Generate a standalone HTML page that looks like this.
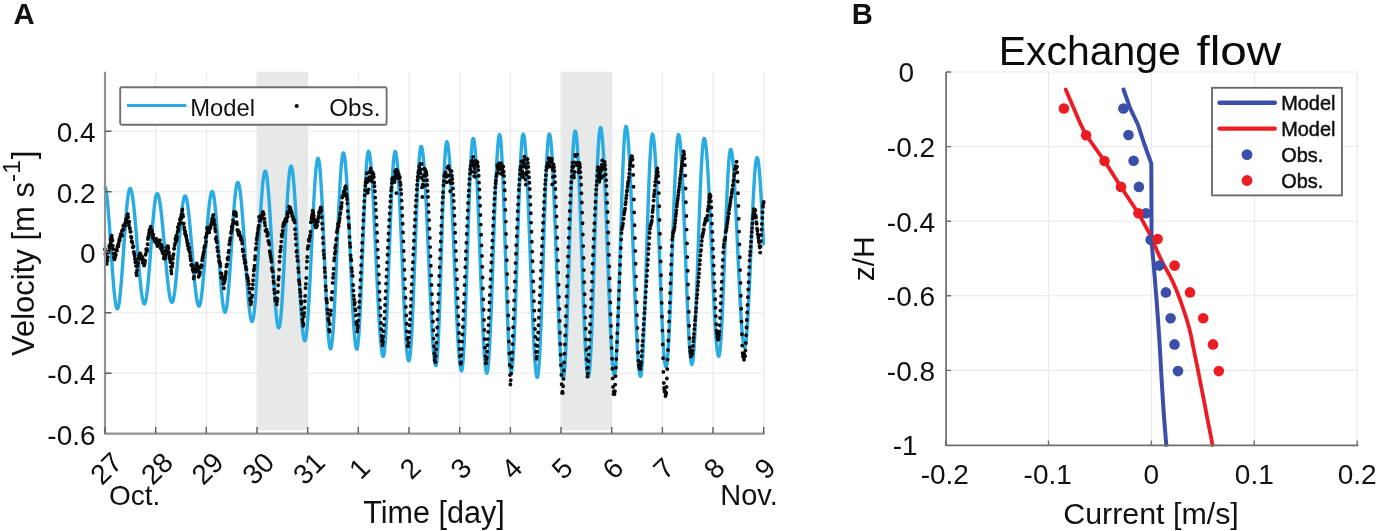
<!DOCTYPE html>
<html lang="en"><head><meta charset="utf-8"><title>Velocity time series and exchange flow</title>
<style>html,body{margin:0;padding:0;background:#fff}body{width:1377px;height:531px;overflow:hidden}svg{display:block;filter:blur(0.45px)}</style>
</head><body>
<svg width="1377" height="531" viewBox="0 0 1377 531" font-family='"Liberation Sans", sans-serif' fill="#111">
<rect width="1377" height="531" fill="#fff"/>
<g id="panelA">
<rect x="257.0" y="71.8" width="50.7" height="358.2" fill="#e7e8e8"/>
<rect x="561.0" y="71.8" width="50.7" height="358.2" fill="#e7e8e8"/>
<path d="M155.7 71.8V433.6M206.3 71.8V433.6M257.0 71.8V433.6M307.7 71.8V433.6M358.3 71.8V433.6M409.0 71.8V433.6M459.7 71.8V433.6M510.4 71.8V433.6M561.0 71.8V433.6M611.7 71.8V433.6M662.4 71.8V433.6M713.0 71.8V433.6M763.7 71.8V433.6M105.0 131.3H763.7M105.0 191.8H763.7M105.0 252.3H763.7M105.0 312.8H763.7M105.0 373.3H763.7" stroke="#e9e9eb" stroke-width="1.1" fill="none"/>
<path d="M105.0 186.5 L105.5 187.8 L106.0 190.1 L106.5 193.3 L107.0 197.2 L107.5 201.9 L108.0 207.3 L108.5 213.3 L109.0 219.8 L109.5 226.7 L110.0 234.0 L110.5 241.4 L111.0 249.0 L111.5 256.5 L112.0 263.8 L112.5 271.0 L113.0 277.7 L113.5 284.1 L114.0 289.8 L114.5 295.0 L115.0 299.4 L115.5 303.0 L116.0 305.8 L116.5 307.7 L117.0 308.7 L117.5 308.8 L118.0 308.0 L118.5 306.3 L119.0 303.7 L119.5 300.3 L120.0 296.1 L120.5 291.3 L121.0 285.7 L121.5 279.6 L122.0 273.1 L122.5 266.1 L123.0 259.0 L123.5 251.6 L124.0 244.2 L124.5 236.9 L125.0 229.8 L125.5 222.9 L126.0 216.4 L126.5 210.4 L127.0 205.0 L127.5 200.3 L128.0 196.2 L128.5 193.0 L129.0 190.6 L129.5 189.1 L130.0 188.4 L130.5 188.6 L131.0 189.5 L131.5 191.1 L132.0 193.4 L132.5 196.2 L133.0 199.7 L133.5 203.8 L134.0 208.3 L134.5 213.3 L135.0 218.8 L135.5 224.5 L136.0 230.5 L136.5 236.7 L137.0 243.0 L137.5 249.3 L138.0 255.6 L138.5 261.8 L139.0 267.8 L139.5 273.5 L140.0 279.0 L140.5 284.0 L141.0 288.5 L141.5 292.6 L142.0 296.1 L142.5 298.9 L143.0 301.2 L143.5 302.8 L144.0 303.7 L144.5 303.9 L145.0 303.3 L145.5 301.9 L146.0 299.7 L146.5 296.7 L147.0 293.1 L147.5 288.7 L148.0 283.8 L148.5 278.3 L149.0 272.4 L149.5 266.1 L150.0 259.5 L150.5 252.9 L151.0 246.1 L151.5 239.4 L152.0 232.8 L152.5 226.5 L153.0 220.5 L153.5 214.9 L154.0 209.8 L154.5 205.4 L155.0 201.5 L155.5 198.4 L156.0 196.1 L156.5 194.5 L157.0 193.8 L157.5 193.8 L158.0 194.5 L158.5 195.8 L159.0 197.6 L159.5 200.0 L160.0 203.0 L160.5 206.5 L161.0 210.4 L161.5 214.8 L162.0 219.6 L162.5 224.6 L163.0 229.9 L163.5 235.5 L164.0 241.1 L164.5 246.9 L165.0 252.7 L165.5 258.4 L166.0 264.0 L166.5 269.4 L167.0 274.6 L167.5 279.4 L168.0 284.0 L168.5 288.1 L169.0 291.7 L169.5 294.9 L170.0 297.6 L170.5 299.7 L171.0 301.2 L171.5 302.1 L172.0 302.4 L172.5 302.0 L173.0 300.9 L173.5 299.0 L174.0 296.4 L174.5 293.1 L175.0 289.2 L175.5 284.7 L176.0 279.7 L176.5 274.3 L177.0 268.5 L177.5 262.4 L178.0 256.2 L178.5 249.8 L179.0 243.4 L179.5 237.1 L180.0 231.0 L180.5 225.1 L181.0 219.6 L181.5 214.5 L182.0 209.9 L182.5 205.9 L183.0 202.5 L183.5 199.8 L184.0 197.7 L184.5 196.5 L185.0 195.9 L185.5 196.1 L186.0 197.0 L186.5 198.6 L187.0 200.9 L187.5 203.8 L188.0 207.3 L188.5 211.4 L189.0 216.0 L189.5 221.0 L190.0 226.4 L190.5 232.1 L191.0 238.1 L191.5 244.2 L192.0 250.4 L192.5 256.6 L193.0 262.8 L193.5 268.8 L194.0 274.6 L194.5 280.1 L195.0 285.2 L195.5 289.8 L196.0 294.0 L196.5 297.6 L197.0 300.7 L197.5 303.1 L198.0 304.8 L198.5 305.8 L199.0 306.2 L199.5 305.8 L200.0 304.6 L200.5 302.6 L201.0 299.8 L201.5 296.3 L202.0 292.2 L202.5 287.4 L203.0 282.1 L203.5 276.3 L204.0 270.1 L204.5 263.7 L205.0 257.0 L205.5 250.2 L206.0 243.3 L206.5 236.6 L207.0 230.0 L207.5 223.7 L208.0 217.8 L208.5 212.3 L209.0 207.3 L209.5 202.8 L210.0 199.1 L210.5 196.0 L211.0 193.7 L211.5 192.2 L212.0 191.5 L212.5 191.6 L213.0 192.6 L213.5 194.4 L214.0 197.2 L214.5 200.8 L215.0 205.1 L215.5 210.2 L216.0 215.8 L216.5 222.0 L217.0 228.7 L217.5 235.7 L218.0 242.9 L218.5 250.3 L219.0 257.7 L219.5 265.0 L220.0 272.1 L220.5 279.0 L221.0 285.4 L221.5 291.3 L222.0 296.6 L222.5 301.2 L223.0 305.1 L223.5 308.2 L224.0 310.4 L224.5 311.7 L225.0 312.2 L225.5 311.7 L226.0 310.3 L226.5 307.9 L227.0 304.5 L227.5 300.4 L228.0 295.4 L228.5 289.7 L229.0 283.4 L229.5 276.5 L230.0 269.2 L230.5 261.5 L231.0 253.7 L231.5 245.7 L232.0 237.8 L232.5 230.0 L233.0 222.5 L233.5 215.3 L234.0 208.6 L234.5 202.5 L235.0 197.1 L235.5 192.5 L236.0 188.6 L236.5 185.7 L237.0 183.6 L237.5 182.6 L238.0 182.5 L238.5 183.2 L239.0 184.8 L239.5 187.2 L240.0 190.4 L240.5 194.3 L241.0 198.9 L241.5 204.1 L242.0 210.0 L242.5 216.3 L243.0 223.1 L243.5 230.2 L244.0 237.5 L244.5 245.1 L245.0 252.7 L245.5 260.3 L246.0 267.9 L246.5 275.2 L247.0 282.2 L247.5 288.9 L248.0 295.1 L248.5 300.9 L249.0 306.0 L249.5 310.5 L250.0 314.2 L250.5 317.2 L251.0 319.5 L251.5 320.9 L252.0 321.5 L252.5 321.2 L253.0 319.8 L253.5 317.3 L254.0 313.8 L254.5 309.4 L255.0 304.0 L255.5 297.9 L256.0 290.9 L256.5 283.4 L257.0 275.3 L257.5 266.8 L258.0 258.0 L258.5 249.0 L259.0 240.0 L259.5 231.1 L260.0 222.4 L260.5 214.0 L261.0 206.1 L261.5 198.8 L262.0 192.2 L262.5 186.3 L263.0 181.3 L263.5 177.3 L264.0 174.2 L264.5 172.2 L265.0 171.2 L265.5 171.3 L266.0 172.4 L266.5 174.6 L267.0 177.8 L267.5 181.9 L268.0 186.9 L268.5 192.8 L269.0 199.4 L269.5 206.7 L270.0 214.6 L270.5 222.9 L271.0 231.6 L271.5 240.5 L272.0 249.5 L272.5 258.6 L273.0 267.5 L273.5 276.2 L274.0 284.5 L274.5 292.4 L275.0 299.7 L275.5 306.3 L276.0 312.2 L276.5 317.2 L277.0 321.3 L277.5 324.5 L278.0 326.7 L278.5 327.8 L279.0 327.9 L279.5 326.7 L280.0 324.2 L280.5 320.4 L281.0 315.4 L281.5 309.2 L282.0 302.0 L282.5 294.0 L283.0 285.1 L283.5 275.6 L284.0 265.6 L284.5 255.4 L285.0 245.0 L285.5 234.6 L286.0 224.4 L286.5 214.6 L287.0 205.4 L287.5 196.8 L288.0 189.1 L288.5 182.3 L289.0 176.6 L289.5 172.1 L290.0 168.8 L290.5 166.8 L291.0 166.1 L291.5 166.7 L292.0 168.4 L292.5 171.1 L293.0 175.0 L293.5 179.9 L294.0 185.7 L294.5 192.4 L295.0 199.9 L295.5 208.1 L296.0 216.9 L296.5 226.1 L297.0 235.7 L297.5 245.6 L298.0 255.5 L298.5 265.4 L299.0 275.2 L299.5 284.6 L300.0 293.7 L300.5 302.3 L301.0 310.2 L301.5 317.4 L302.0 323.7 L302.5 329.2 L303.0 333.7 L303.5 337.1 L304.0 339.5 L304.5 340.7 L305.0 340.8 L305.5 339.7 L306.0 337.3 L306.5 333.6 L307.0 328.8 L307.5 322.9 L308.0 316.0 L308.5 308.2 L309.0 299.5 L309.5 290.2 L310.0 280.2 L310.5 269.9 L311.0 259.2 L311.5 248.5 L312.0 237.7 L312.5 227.1 L313.0 216.8 L313.5 207.0 L314.0 197.8 L314.5 189.3 L315.0 181.6 L315.5 174.9 L316.0 169.2 L316.5 164.6 L317.0 161.3 L317.5 159.1 L318.0 158.2 L318.5 158.7 L319.0 160.7 L319.5 164.1 L320.0 169.0 L320.5 175.3 L321.0 182.8 L321.5 191.4 L322.0 201.1 L322.5 211.6 L323.0 222.7 L323.5 234.4 L324.0 246.3 L324.5 258.4 L325.0 270.4 L325.5 282.1 L326.0 293.4 L326.5 304.0 L327.0 313.8 L327.5 322.7 L328.0 330.4 L328.5 336.9 L329.0 342.1 L329.5 345.9 L330.0 348.1 L330.5 348.9 L331.0 348.2 L331.5 346.0 L332.0 342.4 L332.5 337.5 L333.0 331.3 L333.5 323.9 L334.0 315.4 L334.5 306.0 L335.0 295.7 L335.5 284.8 L336.0 273.4 L336.5 261.6 L337.0 249.7 L337.5 237.8 L338.0 226.1 L338.5 214.8 L339.0 204.0 L339.5 193.9 L340.0 184.6 L340.5 176.3 L341.0 169.2 L341.5 163.2 L342.0 158.5 L342.5 155.2 L343.0 153.4 L343.5 152.9 L344.0 153.9 L344.5 156.1 L345.0 159.7 L345.5 164.6 L346.0 170.6 L346.5 177.7 L347.0 185.8 L347.5 194.9 L348.0 204.7 L348.5 215.1 L349.0 226.0 L349.5 237.3 L350.0 248.7 L350.5 260.2 L351.0 271.6 L351.5 282.7 L352.0 293.3 L352.5 303.4 L353.0 312.8 L353.5 321.3 L354.0 328.8 L354.5 335.3 L355.0 340.6 L355.5 344.7 L356.0 347.5 L356.5 349.0 L357.0 349.1 L357.5 347.5 L358.0 344.1 L358.5 339.1 L359.0 332.4 L359.5 324.3 L360.0 314.9 L360.5 304.3 L361.0 292.7 L361.5 280.4 L362.0 267.5 L362.5 254.3 L363.0 241.0 L363.5 227.9 L364.0 215.2 L364.5 203.2 L365.0 192.0 L365.5 181.8 L366.0 172.9 L366.5 165.3 L367.0 159.3 L367.5 154.9 L368.0 152.3 L368.5 151.4 L369.0 152.0 L369.5 153.7 L370.0 156.6 L370.5 160.6 L371.0 165.7 L371.5 171.8 L372.0 178.8 L372.5 186.6 L373.0 195.3 L373.5 204.6 L374.0 214.4 L374.5 224.7 L375.0 235.4 L375.5 246.2 L376.0 257.2 L376.5 268.1 L377.0 278.8 L377.5 289.3 L378.0 299.4 L378.5 308.9 L379.0 317.8 L379.5 326.0 L380.0 333.4 L380.5 339.8 L381.0 345.3 L381.5 349.7 L382.0 353.0 L382.5 355.3 L383.0 356.3 L383.5 356.1 L384.0 354.2 L384.5 350.5 L385.0 345.2 L385.5 338.4 L386.0 330.1 L386.5 320.5 L387.0 309.7 L387.5 298.0 L388.0 285.6 L388.5 272.6 L389.0 259.3 L389.5 245.9 L390.0 232.6 L390.5 219.7 L391.0 207.4 L391.5 195.8 L392.0 185.3 L392.5 176.0 L393.0 167.9 L393.5 161.4 L394.0 156.4 L394.5 153.1 L395.0 151.5 L395.5 151.7 L396.0 153.2 L396.5 156.1 L397.0 160.3 L397.5 165.8 L398.0 172.6 L398.5 180.4 L399.0 189.2 L399.5 199.0 L400.0 209.5 L400.5 220.6 L401.0 232.2 L401.5 244.1 L402.0 256.1 L402.5 268.2 L403.0 280.1 L403.5 291.7 L404.0 302.8 L404.5 313.3 L405.0 323.1 L405.5 331.9 L406.0 339.7 L406.5 346.5 L407.0 352.0 L407.5 356.2 L408.0 359.1 L408.5 360.6 L409.0 360.8 L409.5 359.2 L410.0 356.0 L410.5 351.1 L411.0 344.7 L411.5 336.8 L412.0 327.5 L412.5 317.1 L413.0 305.7 L413.5 293.4 L414.0 280.5 L414.5 267.2 L415.0 253.7 L415.5 240.1 L416.0 226.8 L416.5 213.9 L417.0 201.6 L417.5 190.2 L418.0 179.8 L418.5 170.5 L419.0 162.6 L419.5 156.2 L420.0 151.3 L420.5 148.1 L421.0 146.5 L421.5 146.6 L422.0 148.0 L422.5 150.6 L423.0 154.4 L423.5 159.4 L424.0 165.5 L424.5 172.6 L425.0 180.6 L425.5 189.5 L426.0 199.2 L426.5 209.5 L427.0 220.4 L427.5 231.7 L428.0 243.2 L428.5 254.9 L429.0 266.6 L429.5 278.2 L430.0 289.5 L430.5 300.4 L431.0 310.9 L431.5 320.7 L432.0 329.8 L432.5 338.0 L433.0 345.3 L433.5 351.6 L434.0 356.8 L434.5 360.8 L435.0 363.7 L435.5 365.3 L436.0 365.7 L436.5 364.0 L437.0 360.1 L437.5 354.0 L438.0 345.8 L438.5 335.7 L439.0 323.9 L439.5 310.6 L440.0 296.2 L440.5 280.8 L441.0 264.9 L441.5 248.8 L442.0 232.8 L442.5 217.2 L443.0 202.3 L443.5 188.6 L444.0 176.1 L444.5 165.3 L445.0 156.3 L445.5 149.4 L446.0 144.6 L446.5 142.0 L447.0 141.7 L447.5 142.9 L448.0 145.4 L448.5 149.1 L449.0 154.0 L449.5 160.2 L450.0 167.4 L450.5 175.6 L451.0 184.8 L451.5 194.8 L452.0 205.4 L452.5 216.7 L453.0 228.4 L453.5 240.4 L454.0 252.6 L454.5 264.9 L455.0 277.0 L455.5 288.9 L456.0 300.5 L456.5 311.5 L457.0 321.9 L457.5 331.6 L458.0 340.4 L458.5 348.2 L459.0 355.0 L459.5 360.7 L460.0 365.2 L460.5 368.4 L461.0 370.3 L461.5 371.0 L462.0 370.0 L462.5 366.8 L463.0 361.7 L463.5 354.6 L464.0 345.8 L464.5 335.2 L465.0 323.3 L465.5 310.1 L466.0 295.9 L466.5 281.0 L467.0 265.6 L467.5 250.0 L468.0 234.4 L468.5 219.3 L469.0 204.8 L469.5 191.2 L470.0 178.7 L470.5 167.6 L471.0 158.0 L471.5 150.2 L472.0 144.3 L472.5 140.3 L473.0 138.5 L473.5 138.6 L474.0 140.3 L474.5 143.6 L475.0 148.3 L475.5 154.5 L476.0 162.0 L476.5 170.8 L477.0 180.8 L477.5 191.7 L478.0 203.5 L478.5 215.9 L479.0 228.9 L479.5 242.3 L480.0 255.8 L480.5 269.4 L481.0 282.8 L481.5 295.8 L482.0 308.2 L482.5 320.0 L483.0 330.9 L483.5 340.9 L484.0 349.7 L484.5 357.2 L485.0 363.4 L485.5 368.1 L486.0 371.4 L486.5 373.1 L487.0 373.3 L487.5 371.6 L488.0 368.3 L488.5 363.2 L489.0 356.4 L489.5 348.1 L490.0 338.4 L490.5 327.5 L491.0 315.4 L491.5 302.4 L492.0 288.7 L492.5 274.4 L493.0 259.9 L493.5 245.2 L494.0 230.7 L494.5 216.5 L495.0 202.9 L495.5 190.1 L496.0 178.3 L496.5 167.5 L497.0 158.1 L497.5 150.1 L498.0 143.7 L498.5 138.9 L499.0 135.9 L499.5 134.6 L500.0 135.3 L500.5 138.1 L501.0 143.0 L501.5 150.0 L502.0 158.8 L502.5 169.4 L503.0 181.5 L503.5 194.9 L504.0 209.4 L504.5 224.7 L505.0 240.6 L505.5 256.6 L506.0 272.6 L506.5 288.3 L507.0 303.3 L507.5 317.4 L508.0 330.3 L508.5 341.8 L509.0 351.7 L509.5 359.8 L510.0 366.0 L510.5 370.1 L511.0 372.0 L511.5 371.8 L512.0 369.6 L512.5 365.4 L513.0 359.2 L513.5 351.2 L514.0 341.6 L514.5 330.4 L515.0 317.9 L515.5 304.3 L516.0 289.9 L516.5 274.8 L517.0 259.3 L517.5 243.7 L518.0 228.3 L518.5 213.3 L519.0 199.0 L519.5 185.6 L520.0 173.3 L520.5 162.4 L521.0 153.1 L521.5 145.5 L522.0 139.7 L522.5 135.9 L523.0 134.1 L523.5 134.2 L524.0 135.8 L524.5 139.0 L525.0 143.6 L525.5 149.5 L526.0 156.8 L526.5 165.4 L527.0 175.0 L527.5 185.7 L528.0 197.2 L528.5 209.4 L529.0 222.2 L529.5 235.4 L530.0 248.9 L530.5 262.5 L531.0 276.0 L531.5 289.2 L532.0 302.0 L532.5 314.2 L533.0 325.7 L533.5 336.4 L534.0 346.0 L534.5 354.6 L535.0 361.9 L535.5 367.8 L536.0 372.4 L536.5 375.6 L537.0 377.2 L537.5 377.3 L538.0 375.5 L538.5 371.5 L539.0 365.6 L539.5 357.9 L540.0 348.3 L540.5 337.2 L541.0 324.7 L541.5 311.0 L542.0 296.4 L542.5 281.0 L543.0 265.3 L543.5 249.3 L544.0 233.5 L544.5 218.1 L545.0 203.3 L545.5 189.4 L546.0 176.6 L546.5 165.2 L547.0 155.3 L547.5 147.2 L548.0 140.9 L548.5 136.6 L549.0 134.3 L549.5 134.0 L550.0 135.4 L550.5 138.4 L551.0 142.8 L551.5 148.7 L552.0 155.9 L552.5 164.5 L553.0 174.2 L553.5 184.9 L554.0 196.6 L554.5 209.0 L555.0 222.0 L555.5 235.4 L556.0 249.2 L556.5 262.9 L557.0 276.7 L557.5 290.1 L558.0 303.1 L558.5 315.5 L559.0 327.2 L559.5 337.9 L560.0 347.6 L560.5 356.2 L561.0 363.4 L561.5 369.3 L562.0 373.7 L562.5 376.7 L563.0 378.1 L563.5 377.8 L564.0 375.5 L564.5 371.1 L565.0 364.7 L565.5 356.5 L566.0 346.4 L566.5 334.9 L567.0 321.9 L567.5 307.8 L568.0 292.8 L568.5 277.1 L569.0 261.0 L569.5 244.8 L570.0 228.8 L570.5 213.3 L571.0 198.4 L571.5 184.5 L572.0 171.8 L572.5 160.5 L573.0 150.8 L573.5 142.9 L574.0 137.0 L574.5 133.0 L575.0 131.1 L575.5 131.2 L576.0 133.2 L576.5 136.8 L577.0 142.2 L577.5 149.1 L578.0 157.6 L578.5 167.5 L579.0 178.6 L579.5 190.7 L580.0 203.8 L580.5 217.6 L581.0 231.9 L581.5 246.6 L582.0 261.3 L582.5 276.0 L583.0 290.3 L583.5 304.1 L584.0 317.2 L584.5 329.3 L585.0 340.4 L585.5 350.3 L586.0 358.8 L586.5 365.7 L587.0 371.1 L587.5 374.7 L588.0 376.7 L588.5 376.8 L589.0 375.0 L589.5 371.1 L590.0 365.2 L590.5 357.5 L591.0 348.0 L591.5 337.0 L592.0 324.5 L592.5 310.9 L593.0 296.2 L593.5 280.9 L594.0 265.0 L594.5 249.0 L595.0 233.0 L595.5 217.3 L596.0 202.2 L596.5 188.0 L597.0 174.7 L597.5 162.8 L598.0 152.4 L598.5 143.6 L599.0 136.6 L599.5 131.5 L600.0 128.4 L600.5 127.4 L601.0 128.2 L601.5 130.6 L602.0 134.5 L602.5 139.8 L603.0 146.7 L603.5 154.8 L604.0 164.2 L604.5 174.7 L605.0 186.1 L605.5 198.4 L606.0 211.4 L606.5 224.9 L607.0 238.7 L607.5 252.7 L608.0 266.7 L608.5 280.4 L609.0 293.8 L609.5 306.7 L610.0 318.8 L610.5 330.1 L611.0 340.4 L611.5 349.5 L612.0 357.4 L612.5 364.0 L613.0 369.0 L613.5 372.6 L614.0 374.7 L614.5 375.2 L615.0 373.6 L615.5 369.7 L616.0 363.7 L616.5 355.6 L617.0 345.6 L617.5 333.9 L618.0 320.6 L618.5 306.0 L619.0 290.5 L619.5 274.2 L620.0 257.5 L620.5 240.6 L621.0 224.0 L621.5 207.8 L622.0 192.5 L622.5 178.1 L623.0 165.2 L623.5 153.8 L624.0 144.1 L624.5 136.4 L625.0 130.8 L625.5 127.4 L626.0 126.3 L626.5 127.0 L627.0 129.2 L627.5 132.8 L628.0 137.9 L628.5 144.2 L629.0 151.8 L629.5 160.6 L630.0 170.4 L630.5 181.2 L631.0 192.8 L631.5 205.1 L632.0 217.9 L632.5 231.1 L633.0 244.6 L633.5 258.1 L634.0 271.6 L634.5 284.8 L635.0 297.6 L635.5 309.9 L636.0 321.5 L636.5 332.3 L637.0 342.1 L637.5 350.9 L638.0 358.5 L638.5 364.8 L639.0 369.9 L639.5 373.5 L640.0 375.7 L640.5 376.4 L641.0 375.4 L641.5 372.3 L642.0 367.2 L642.5 360.2 L643.0 351.4 L643.5 340.9 L644.0 329.0 L644.5 315.8 L645.0 301.6 L645.5 286.6 L646.0 271.1 L646.5 255.2 L647.0 239.4 L647.5 223.9 L648.0 208.9 L648.5 194.7 L649.0 181.5 L649.5 169.6 L650.0 159.1 L650.5 150.3 L651.0 143.3 L651.5 138.2 L652.0 135.1 L652.5 134.1 L653.0 134.9 L653.5 137.2 L654.0 141.1 L654.5 146.5 L655.0 153.3 L655.5 161.4 L656.0 170.7 L656.5 181.1 L657.0 192.4 L657.5 204.5 L658.0 217.2 L658.5 230.4 L659.0 243.9 L659.5 257.4 L660.0 270.9 L660.5 284.1 L661.0 296.8 L661.5 308.9 L662.0 320.2 L662.5 330.6 L663.0 339.9 L663.5 348.0 L664.0 354.8 L664.5 360.2 L665.0 364.1 L665.5 366.4 L666.0 367.2 L666.5 366.3 L667.0 363.6 L667.5 359.2 L668.0 353.0 L668.5 345.3 L669.0 336.2 L669.5 325.7 L670.0 314.0 L670.5 301.4 L671.0 287.9 L671.5 273.9 L672.0 259.6 L672.5 245.1 L673.0 230.7 L673.5 216.6 L674.0 203.1 L674.5 190.3 L675.0 178.4 L675.5 167.6 L676.0 158.2 L676.5 150.2 L677.0 143.7 L677.5 138.9 L678.0 135.9 L678.5 134.6 L679.0 135.1 L679.5 137.2 L680.0 140.8 L680.5 146.0 L681.0 152.6 L681.5 160.5 L682.0 169.7 L682.5 180.0 L683.0 191.3 L683.5 203.4 L684.0 216.1 L684.5 229.3 L685.0 242.8 L685.5 256.3 L686.0 269.8 L686.5 283.0 L687.0 295.7 L687.5 307.8 L688.0 319.1 L688.5 329.4 L689.0 338.6 L689.5 346.5 L690.0 353.1 L690.5 358.3 L691.0 361.9 L691.5 364.0 L692.0 364.5 L692.5 363.2 L693.0 360.1 L693.5 355.2 L694.0 348.6 L694.5 340.5 L695.0 330.9 L695.5 320.0 L696.0 308.0 L696.5 295.0 L697.0 281.4 L697.5 267.3 L698.0 252.9 L698.5 238.5 L699.0 224.3 L699.5 210.5 L700.0 197.4 L700.5 185.2 L701.0 174.1 L701.5 164.2 L702.0 155.8 L702.5 148.9 L703.0 143.7 L703.5 140.2 L704.0 138.5 L704.5 138.6 L705.0 140.0 L705.5 142.7 L706.0 146.6 L706.5 151.7 L707.0 157.8 L707.5 165.1 L708.0 173.3 L708.5 182.4 L709.0 192.2 L709.5 202.7 L710.0 213.7 L710.5 225.1 L711.0 236.8 L711.5 248.6 L712.0 260.4 L712.5 272.0 L713.0 283.3 L713.5 294.2 L714.0 304.6 L714.5 314.3 L715.0 323.2 L715.5 331.2 L716.0 338.3 L716.5 344.3 L717.0 349.1 L717.5 352.7 L718.0 355.1 L718.5 356.3 L719.0 356.1 L719.5 354.1 L720.0 350.5 L720.5 345.1 L721.0 338.2 L721.5 329.8 L722.0 320.1 L722.5 309.3 L723.0 297.5 L723.5 284.9 L724.0 271.8 L724.5 258.3 L725.0 244.8 L725.5 231.4 L726.0 218.4 L726.5 205.9 L727.0 194.3 L727.5 183.6 L728.0 174.2 L728.5 166.1 L729.0 159.5 L729.5 154.5 L730.0 151.1 L730.5 149.5 L731.0 149.6 L731.5 151.0 L732.0 153.6 L732.5 157.5 L733.0 162.5 L733.5 168.6 L734.0 175.7 L734.5 183.7 L735.0 192.6 L735.5 202.2 L736.0 212.4 L736.5 223.0 L737.0 234.0 L737.5 245.1 L738.0 256.3 L738.5 267.4 L739.0 278.2 L739.5 288.7 L740.0 298.6 L740.5 307.9 L741.0 316.5 L741.5 324.2 L742.0 330.9 L742.5 336.6 L743.0 341.1 L743.5 344.5 L744.0 346.6 L744.5 347.5 L745.0 347.0 L745.5 345.1 L746.0 341.7 L746.5 336.9 L747.0 330.7 L747.5 323.4 L748.0 314.9 L748.5 305.4 L749.0 295.1 L749.5 284.1 L750.0 272.6 L750.5 260.8 L751.0 248.9 L751.5 237.0 L752.0 225.4 L752.5 214.2 L753.0 203.6 L753.5 193.8 L754.0 184.9 L754.5 177.1 L755.0 170.4 L755.5 165.1 L756.0 161.1 L756.5 158.6 L757.0 157.5 L757.5 157.9 L758.0 159.6 L758.5 162.6 L759.0 166.8 L759.5 172.2 L760.0 178.7 L760.5 186.2 L761.0 194.6 L761.5 203.8 L762.0 213.5 L762.5 223.8 L763.0 234.4 L763.5 245.2" stroke="#2aabe2" stroke-width="3.4" fill="none" stroke-linejoin="round"/>
<path d="M105.0 249.3h0M105.4 254.1h0M105.7 254.0h0M106.1 258.4h0M106.4 262.0h0M106.8 263.9h0M107.1 258.6h0M107.5 260.4h0M107.8 257.1h0M108.2 252.3h0M108.5 252.6h0M108.9 250.9h0M109.2 246.1h0M109.6 247.8h0M109.9 246.3h0M110.3 244.1h0M110.6 239.4h0M111.0 242.0h0M111.3 236.8h0M111.7 235.8h0M112.0 238.7h0M112.4 240.4h0M112.7 245.7h0M113.1 249.1h0M113.4 253.8h0M113.8 257.6h0M114.1 258.2h0M114.5 259.4h0M114.9 257.7h0M115.2 257.1h0M115.6 254.6h0M115.9 254.9h0M116.3 250.9h0M116.6 249.6h0M117.0 250.4h0M117.3 247.1h0M117.7 246.3h0M118.0 244.9h0M118.4 246.3h0M118.7 243.4h0M119.1 241.0h0M119.4 239.2h0M119.8 240.2h0M120.1 236.8h0M120.5 236.8h0M120.8 234.3h0M121.2 234.4h0M121.5 235.1h0M121.9 231.0h0M122.2 235.5h0M122.6 230.1h0M122.9 229.4h0M123.3 225.7h0M123.6 229.6h0M124.0 225.0h0M124.4 225.3h0M124.7 225.6h0M125.1 225.8h0M125.4 222.6h0M125.8 221.5h0M126.1 219.0h0M126.5 219.7h0M126.8 218.6h0M127.2 216.0h0M127.5 214.4h0M127.9 214.2h0M128.2 217.3h0M128.6 223.1h0M128.9 225.3h0M129.3 221.8h0M129.6 228.3h0M130.0 228.2h0M130.3 231.8h0M130.7 231.8h0M131.0 236.7h0M131.4 237.7h0M131.7 241.5h0M132.1 241.8h0M132.4 242.9h0M132.8 247.3h0M133.1 247.2h0M133.5 246.5h0M133.9 251.9h0M134.2 253.8h0M134.6 255.5h0M134.9 258.8h0M135.3 262.3h0M135.6 261.2h0M136.0 266.1h0M136.3 273.0h0M136.7 275.2h0M137.0 270.2h0M137.4 266.2h0M137.7 265.4h0M138.1 262.6h0M138.4 258.6h0M138.8 257.9h0M139.1 256.1h0M139.5 254.1h0M139.8 255.4h0M140.2 253.5h0M140.5 254.0h0M140.9 255.9h0M141.2 259.0h0M141.6 256.4h0M141.9 257.2h0M142.3 257.2h0M142.7 262.8h0M143.0 261.7h0M143.4 259.7h0M143.7 263.1h0M144.1 265.5h0M144.4 263.6h0M144.8 263.6h0M145.1 260.9h0M145.5 254.8h0M145.8 254.0h0M146.2 249.3h0M146.5 251.0h0M146.9 248.9h0M147.2 250.8h0M147.6 244.2h0M147.9 239.0h0M148.3 237.3h0M148.6 236.1h0M149.0 233.5h0M149.3 230.4h0M149.7 231.3h0M150.0 229.1h0M150.4 228.2h0M150.7 226.7h0M151.1 231.6h0M151.4 230.8h0M151.8 230.2h0M152.2 231.7h0M152.5 235.2h0M152.9 237.8h0M153.2 234.6h0M153.6 237.7h0M153.9 238.7h0M154.3 239.5h0M154.6 240.7h0M155.0 238.9h0M155.3 242.1h0M155.7 241.7h0M156.0 239.6h0M156.4 239.0h0M156.7 240.3h0M157.1 244.9h0M157.4 246.1h0M157.8 243.2h0M158.1 244.7h0M158.5 241.7h0M158.8 243.0h0M159.2 243.4h0M159.5 244.2h0M159.9 240.3h0M160.2 244.2h0M160.6 248.3h0M160.9 244.9h0M161.3 244.7h0M161.7 249.3h0M162.0 250.7h0M162.4 247.3h0M162.7 253.3h0M163.1 253.0h0M163.4 251.6h0M163.8 258.4h0M164.1 256.8h0M164.5 256.9h0M164.8 258.7h0M165.2 257.4h0M165.5 255.3h0M165.9 255.2h0M166.2 250.7h0M166.6 248.0h0M166.9 251.5h0M167.3 247.8h0M167.6 246.3h0M168.0 246.2h0M168.3 248.3h0M168.7 251.9h0M169.0 253.2h0M169.4 258.3h0M169.7 256.4h0M170.1 260.1h0M170.4 262.3h0M170.8 266.9h0M171.2 270.7h0M171.5 273.6h0M171.9 266.9h0M172.2 266.1h0M172.6 263.2h0M172.9 258.8h0M173.3 255.2h0M173.6 254.3h0M174.0 248.7h0M174.3 248.6h0M174.7 245.2h0M175.0 243.8h0M175.4 239.4h0M175.7 238.0h0M176.1 241.6h0M176.4 235.5h0M176.8 239.8h0M177.1 237.3h0M177.5 232.0h0M177.8 227.2h0M178.2 230.5h0M178.5 229.1h0M178.9 224.0h0M179.2 224.9h0M179.6 223.7h0M179.9 219.5h0M180.3 222.1h0M180.7 217.6h0M181.0 218.2h0M181.4 214.7h0M181.7 217.9h0M182.1 211.1h0M182.4 209.4h0M182.8 214.8h0M183.1 216.4h0M183.5 223.8h0M183.8 223.5h0M184.2 227.5h0M184.5 230.1h0M184.9 233.4h0M185.2 231.6h0M185.6 234.4h0M185.9 236.0h0M186.3 235.7h0M186.6 238.7h0M187.0 240.7h0M187.3 242.9h0M187.7 245.4h0M188.0 243.8h0M188.4 248.8h0M188.7 249.7h0M189.1 247.7h0M189.4 248.0h0M189.8 252.3h0M190.2 255.8h0M190.5 258.8h0M190.9 260.2h0M191.2 265.1h0M191.6 264.8h0M191.9 265.9h0M192.3 265.3h0M192.6 269.8h0M193.0 268.8h0M193.3 271.6h0M193.7 278.6h0M194.0 276.7h0M194.4 268.7h0M194.7 270.9h0M195.1 268.9h0M195.4 271.4h0M195.8 271.9h0M196.1 265.5h0M196.5 264.7h0M196.8 263.4h0M197.2 265.4h0M197.5 268.5h0M197.9 270.8h0M198.2 270.8h0M198.6 276.7h0M198.9 276.3h0M199.3 274.8h0M199.7 274.4h0M200.0 272.2h0M200.4 266.5h0M200.7 267.6h0M201.1 267.6h0M201.4 265.3h0M201.8 265.9h0M202.1 260.3h0M202.5 257.9h0M202.8 257.0h0M203.2 255.0h0M203.5 253.1h0M203.9 251.5h0M204.2 248.0h0M204.6 246.7h0M204.9 245.7h0M205.3 245.7h0M205.6 237.7h0M206.0 242.0h0M206.3 236.3h0M206.7 233.5h0M207.0 228.2h0M207.4 227.6h0M207.7 230.6h0M208.1 230.5h0M208.4 232.2h0M208.8 228.4h0M209.2 232.4h0M209.5 229.7h0M209.9 228.3h0M210.2 227.3h0M210.6 227.2h0M210.9 225.2h0M211.3 223.9h0M211.6 222.2h0M212.0 219.6h0M212.3 218.1h0M212.7 218.4h0M213.0 215.5h0M213.4 214.9h0M213.7 219.3h0M214.1 221.0h0M214.4 224.2h0M214.8 225.1h0M215.1 228.7h0M215.5 231.5h0M215.8 238.9h0M216.2 237.3h0M216.5 241.3h0M216.9 242.3h0M217.2 247.4h0M217.6 251.1h0M218.0 251.3h0M218.3 256.0h0M218.7 257.0h0M219.0 261.1h0M219.4 260.9h0M219.7 262.9h0M220.1 263.4h0M220.4 266.1h0M220.8 273.2h0M221.1 277.5h0M221.5 273.4h0M221.8 277.0h0M222.2 278.4h0M222.5 276.9h0M222.9 279.4h0M223.2 283.5h0M223.6 283.8h0M223.9 288.3h0M224.3 281.4h0M224.6 282.1h0M225.0 279.6h0M225.3 277.3h0M225.7 274.6h0M226.0 271.9h0M226.4 266.5h0M226.7 264.7h0M227.1 264.4h0M227.5 258.4h0M227.8 259.6h0M228.2 257.3h0M228.5 252.4h0M228.9 250.6h0M229.2 244.2h0M229.6 244.0h0M229.9 240.8h0M230.3 238.2h0M230.6 238.1h0M231.0 233.1h0M231.3 231.4h0M231.7 226.7h0M232.0 229.3h0M232.4 227.8h0M232.7 224.2h0M233.1 220.1h0M233.4 223.0h0M233.8 214.3h0M234.1 211.9h0M234.5 212.4h0M234.8 214.9h0M235.2 214.4h0M235.5 212.2h0M235.9 213.3h0M236.2 216.0h0M236.6 222.1h0M237.0 224.3h0M237.3 230.0h0M237.7 231.1h0M238.0 230.1h0M238.4 233.8h0M238.7 234.7h0M239.1 235.4h0M239.4 232.5h0M239.8 235.5h0M240.1 235.4h0M240.5 236.5h0M240.8 239.3h0M241.2 238.2h0M241.5 239.6h0M241.9 240.7h0M242.2 243.6h0M242.6 249.4h0M242.9 251.4h0M243.3 250.8h0M243.6 255.9h0M244.0 255.8h0M244.3 259.2h0M244.7 263.0h0M245.0 260.7h0M245.4 262.4h0M245.7 266.8h0M246.1 268.9h0M246.5 269.4h0M246.8 275.0h0M247.2 276.0h0M247.5 278.4h0M247.9 278.0h0M248.2 281.0h0M248.6 284.2h0M248.9 283.9h0M249.3 288.4h0M249.6 292.6h0M250.0 298.8h0M250.3 300.8h0M250.7 304.4h0M251.0 301.1h0M251.4 302.1h0M251.7 297.2h0M252.1 295.4h0M252.4 288.8h0M252.8 284.5h0M253.1 280.3h0M253.5 275.2h0M253.8 270.5h0M254.2 268.8h0M254.5 265.7h0M254.9 259.5h0M255.2 256.3h0M255.6 249.4h0M256.0 248.0h0M256.3 243.6h0M256.7 239.8h0M257.0 237.4h0M257.4 234.5h0M257.7 232.8h0M258.1 229.5h0M258.4 227.6h0M258.8 225.8h0M259.1 217.0h0M259.5 220.9h0M259.8 216.5h0M260.2 218.4h0M260.5 220.5h0M260.9 217.9h0M261.2 218.0h0M261.6 216.3h0M261.9 216.0h0M262.3 214.1h0M262.6 212.4h0M263.0 211.9h0M263.3 214.1h0M263.7 214.3h0M264.0 218.7h0M264.4 218.7h0M264.7 222.5h0M265.1 225.6h0M265.5 230.6h0M265.8 231.1h0M266.2 231.5h0M266.5 229.5h0M266.9 231.9h0M267.2 235.9h0M267.6 232.7h0M267.9 234.8h0M268.3 240.9h0M268.6 241.7h0M269.0 243.1h0M269.3 244.6h0M269.7 251.3h0M270.0 252.5h0M270.4 255.3h0M270.7 256.9h0M271.1 259.3h0M271.4 261.8h0M271.8 268.3h0M272.1 270.3h0M272.5 271.3h0M272.8 271.4h0M273.2 277.0h0M273.5 281.4h0M273.9 283.1h0M274.2 289.6h0M274.6 293.1h0M275.0 298.6h0M275.3 300.6h0M275.7 299.4h0M276.0 300.0h0M276.4 298.3h0M276.7 304.4h0M277.1 301.4h0M277.4 299.0h0M277.8 292.0h0M278.1 285.3h0M278.5 279.6h0M278.8 277.0h0M279.2 269.6h0M279.5 261.8h0M279.9 256.6h0M280.2 251.6h0M280.6 250.3h0M280.9 246.8h0M281.3 241.6h0M281.6 235.2h0M282.0 236.6h0M282.3 234.0h0M282.7 230.8h0M283.0 226.6h0M283.4 224.9h0M283.7 222.9h0M284.1 224.6h0M284.5 223.1h0M284.8 221.5h0M285.2 219.9h0M285.5 218.9h0M285.9 220.3h0M286.2 219.4h0M286.6 221.1h0M286.9 218.1h0M287.3 214.0h0M287.6 216.5h0M288.0 211.8h0M288.3 212.8h0M288.7 211.7h0M289.0 206.6h0M289.4 207.9h0M289.7 207.6h0M290.1 207.7h0M290.4 208.2h0M290.8 211.7h0M291.1 210.7h0M291.5 213.1h0M291.8 213.0h0M292.2 216.1h0M292.5 216.0h0M292.9 217.0h0M293.3 219.8h0M293.6 219.2h0M294.0 219.7h0M294.3 220.3h0M294.7 222.4h0M295.0 229.2h0M295.4 234.5h0M295.7 238.6h0M296.1 244.7h0M296.4 251.8h0M296.8 251.0h0M297.1 256.5h0M297.5 260.7h0M297.8 260.9h0M298.2 268.3h0M298.5 272.1h0M298.9 280.0h0M299.2 281.5h0M299.6 284.2h0M299.9 289.8h0M300.3 292.4h0M300.6 296.2h0M301.0 301.3h0M301.3 303.5h0M301.7 309.5h0M302.0 314.0h0M302.4 319.5h0M302.8 322.2h0M303.1 325.8h0M303.5 324.2h0M303.8 316.5h0M304.2 312.9h0M304.5 307.8h0M304.9 301.2h0M305.2 295.9h0M305.6 288.1h0M305.9 283.9h0M306.3 277.9h0M306.6 267.9h0M307.0 261.5h0M307.3 257.0h0M307.7 248.7h0M308.0 246.8h0M308.4 245.9h0M308.7 240.0h0M309.1 241.1h0M309.4 240.3h0M309.8 237.2h0M310.1 235.5h0M310.5 231.8h0M310.8 222.2h0M311.2 222.0h0M311.5 218.8h0M311.9 216.2h0M312.3 213.9h0M312.6 210.7h0M313.0 211.5h0M313.3 212.9h0M313.7 215.7h0M314.0 219.0h0M314.4 219.6h0M314.7 221.9h0M315.1 225.4h0M315.4 226.3h0M315.8 227.4h0M316.1 224.1h0M316.5 227.1h0M316.8 225.9h0M317.2 225.6h0M317.5 221.0h0M317.9 221.8h0M318.2 218.3h0M318.6 216.3h0M318.9 212.7h0M319.3 212.9h0M319.6 211.3h0M320.0 212.8h0M320.3 209.5h0M320.7 207.5h0M321.0 207.6h0M321.4 210.5h0M321.8 217.2h0M322.1 223.6h0M322.5 229.1h0M322.8 237.7h0M323.2 243.3h0M323.5 250.7h0M323.9 254.6h0M324.2 257.9h0M324.6 268.0h0M324.9 271.9h0M325.3 276.9h0M325.6 286.3h0M326.0 290.2h0M326.3 298.6h0M326.7 300.3h0M327.0 302.6h0M327.4 309.4h0M327.7 313.4h0M328.1 319.4h0M328.4 318.7h0M328.8 320.9h0M329.1 329.6h0M329.5 331.6h0M329.8 324.0h0M330.2 315.1h0M330.5 314.5h0M330.9 310.5h0M331.3 298.3h0M331.6 299.6h0M332.0 292.3h0M332.3 291.9h0M332.7 282.9h0M333.0 277.8h0M333.4 273.9h0M333.7 268.7h0M334.1 260.6h0M334.4 258.3h0M334.8 253.7h0M335.1 247.8h0M335.5 251.5h0M335.8 244.9h0M336.2 240.1h0M336.5 238.6h0M336.9 232.2h0M337.2 230.5h0M337.6 227.7h0M337.9 224.0h0M338.3 224.2h0M338.6 225.9h0M339.0 222.6h0M339.3 220.7h0M339.7 218.0h0M340.0 214.3h0M340.4 213.0h0M340.8 207.3h0M341.1 208.7h0M341.5 206.4h0M341.8 202.9h0M342.2 197.5h0M342.5 197.1h0M342.9 195.7h0M343.2 195.9h0M343.6 193.3h0M343.9 191.3h0M344.3 193.2h0M344.6 190.8h0M345.0 187.7h0M345.3 187.7h0M345.7 186.1h0M346.0 188.5h0M346.4 194.3h0M346.7 196.2h0M347.1 199.2h0M347.4 203.5h0M347.8 211.1h0M348.1 217.2h0M348.5 217.7h0M348.8 225.0h0M349.2 227.8h0M349.5 236.9h0M349.9 243.3h0M350.3 246.7h0M350.6 255.4h0M351.0 258.9h0M351.3 260.4h0M351.7 268.3h0M352.0 271.6h0M352.4 275.8h0M352.7 275.9h0M353.1 285.0h0M353.4 290.6h0M353.8 295.8h0M354.1 299.6h0M354.5 304.6h0M354.8 302.8h0M355.2 309.2h0M355.5 310.3h0M355.9 315.4h0M356.2 322.3h0M356.6 324.6h0M356.9 324.1h0M357.3 331.6h0M357.6 328.2h0M358.0 326.1h0M358.3 320.6h0M358.7 314.6h0M359.0 307.4h0M359.4 301.7h0M359.8 295.3h0M360.1 287.6h0M360.5 279.9h0M360.8 272.6h0M361.2 265.3h0M361.5 257.2h0M361.9 250.4h0M362.2 242.8h0M362.6 235.1h0M362.9 228.1h0M363.3 220.5h0M363.6 214.3h0M364.0 207.5h0M364.3 201.1h0M364.7 195.3h0M365.0 190.1h0M365.4 185.8h0M365.7 182.5h0M366.1 181.2h0M366.4 178.9h0M366.8 173.2h0M367.1 182.3h0M367.5 192.0h0M367.8 192.8h0M368.2 178.9h0M368.6 189.4h0M368.9 180.6h0M369.3 177.2h0M369.6 172.4h0M370.0 171.9h0M370.3 170.6h0M370.7 168.4h0M371.0 177.3h0M371.4 179.3h0M371.7 181.3h0M372.1 178.6h0M372.4 172.2h0M372.8 173.4h0M373.1 176.5h0M373.5 173.9h0M373.8 177.0h0M374.2 182.4h0M374.5 186.2h0M374.9 191.3h0M375.2 197.6h0M375.6 203.5h0M375.9 210.0h0M376.3 217.2h0M376.6 224.9h0M377.0 232.7h0M377.3 241.2h0M377.7 249.6h0M378.1 257.6h0M378.4 266.1h0M378.8 274.5h0M379.1 283.1h0M379.5 291.7h0M379.8 299.9h0M380.2 307.8h0M380.5 315.6h0M380.9 322.9h0M381.2 329.2h0M381.6 336.0h0M381.9 341.3h0M382.3 339.6h0M382.6 345.2h0M383.0 342.0h0M383.3 336.6h0M383.7 331.4h0M384.0 325.1h0M384.4 318.6h0M384.7 311.6h0M385.1 305.0h0M385.4 298.2h0M385.8 291.1h0M386.1 283.6h0M386.5 276.6h0M386.8 269.4h0M387.2 262.4h0M387.6 254.8h0M387.9 247.7h0M388.3 240.2h0M388.6 233.5h0M389.0 226.6h0M389.3 220.0h0M389.7 213.5h0M390.0 207.1h0M390.4 201.4h0M390.7 196.0h0M391.1 190.6h0M391.4 187.5h0M391.8 183.0h0M392.1 179.4h0M392.5 178.0h0M392.8 181.4h0M393.2 179.7h0M393.5 179.1h0M393.9 180.9h0M394.2 180.4h0M394.6 182.0h0M394.9 171.7h0M395.3 176.0h0M395.6 175.3h0M396.0 170.0h0M396.3 193.1h0M396.7 177.9h0M397.1 170.3h0M397.4 173.5h0M397.8 171.9h0M398.1 175.2h0M398.5 178.5h0M398.8 174.5h0M399.2 177.5h0M399.5 178.3h0M399.9 177.2h0M400.2 182.3h0M400.6 185.0h0M400.9 189.4h0M401.3 194.0h0M401.6 200.6h0M402.0 208.0h0M402.3 215.7h0M402.7 223.8h0M403.0 232.5h0M403.4 241.4h0M403.7 251.0h0M404.1 260.2h0M404.4 269.7h0M404.8 279.1h0M405.1 288.4h0M405.5 297.8h0M405.8 307.0h0M406.2 315.4h0M406.6 323.8h0M406.9 331.4h0M407.3 339.0h0M407.6 346.0h0M408.0 337.8h0M408.3 346.2h0M408.7 342.6h0M409.0 337.6h0M409.4 332.1h0M409.7 325.3h0M410.1 319.4h0M410.4 312.9h0M410.8 306.0h0M411.1 299.0h0M411.5 291.8h0M411.8 284.2h0M412.2 276.8h0M412.5 269.3h0M412.9 262.2h0M413.2 254.6h0M413.6 248.2h0M413.9 240.8h0M414.3 233.5h0M414.6 226.2h0M415.0 219.8h0M415.3 212.8h0M415.7 206.3h0M416.1 200.5h0M416.4 195.4h0M416.8 189.5h0M417.1 184.9h0M417.5 180.3h0M417.8 176.7h0M418.2 172.6h0M418.5 173.3h0M418.9 170.5h0M419.2 166.6h0M419.6 169.7h0M419.9 172.2h0M420.3 163.9h0M420.6 173.6h0M421.0 169.5h0M421.3 177.8h0M421.7 163.9h0M422.0 187.4h0M422.4 197.0h0M422.7 184.6h0M423.1 184.9h0M423.4 180.4h0M423.8 175.8h0M424.1 185.8h0M424.5 168.8h0M424.8 174.7h0M425.2 169.6h0M425.6 175.7h0M425.9 172.6h0M426.3 171.9h0M426.6 174.9h0M427.0 180.2h0M427.3 185.0h0M427.7 191.1h0M428.0 196.9h0M428.4 204.8h0M428.7 212.1h0M429.1 220.1h0M429.4 228.8h0M429.8 237.9h0M430.1 247.1h0M430.5 256.2h0M430.8 265.8h0M431.2 275.4h0M431.5 284.9h0M431.9 294.3h0M432.2 303.7h0M432.6 312.9h0M432.9 321.5h0M433.3 330.2h0M433.6 338.6h0M434.0 346.2h0M434.3 353.2h0M434.7 360.2h0M435.1 356.7h0M435.4 362.1h0M435.8 356.1h0M436.1 349.4h0M436.5 342.7h0M436.8 335.1h0M437.2 327.5h0M437.5 319.4h0M437.9 311.0h0M438.2 302.5h0M438.6 294.1h0M438.9 285.1h0M439.3 276.0h0M439.6 267.2h0M440.0 258.4h0M440.3 249.9h0M440.7 241.5h0M441.0 233.2h0M441.4 225.7h0M441.7 217.4h0M442.1 210.1h0M442.4 202.9h0M442.8 197.2h0M443.1 192.2h0M443.5 185.2h0M443.9 181.0h0M444.2 176.1h0M444.6 175.0h0M444.9 174.6h0M445.3 172.4h0M445.6 172.5h0M446.0 176.9h0M446.3 174.9h0M446.7 182.3h0M447.0 175.8h0M447.4 167.8h0M447.7 175.5h0M448.1 166.9h0M448.4 166.1h0M448.8 175.6h0M449.1 168.9h0M449.5 175.6h0M449.8 180.7h0M450.2 191.2h0M450.5 183.1h0M450.9 171.7h0M451.2 171.1h0M451.6 171.1h0M451.9 175.6h0M452.3 179.0h0M452.6 183.1h0M453.0 188.4h0M453.4 194.9h0M453.7 201.0h0M454.1 208.1h0M454.4 215.7h0M454.8 224.3h0M455.1 232.8h0M455.5 241.9h0M455.8 250.9h0M456.2 260.2h0M456.5 269.7h0M456.9 279.3h0M457.2 288.8h0M457.6 298.3h0M457.9 307.1h0M458.3 316.2h0M458.6 324.6h0M459.0 333.0h0M459.3 341.3h0M459.7 349.1h0M460.0 356.2h0M460.4 362.8h0M460.7 363.8h0M461.1 362.3h0M461.4 355.3h0M461.8 348.9h0M462.1 341.6h0M462.5 334.5h0M462.9 327.0h0M463.2 319.3h0M463.6 310.8h0M463.9 302.8h0M464.3 294.2h0M464.6 285.1h0M465.0 276.7h0M465.3 267.3h0M465.7 259.0h0M466.0 251.2h0M466.4 242.7h0M466.7 234.0h0M467.1 226.1h0M467.4 217.9h0M467.8 210.5h0M468.1 203.0h0M468.5 196.0h0M468.8 190.6h0M469.2 184.3h0M469.5 179.0h0M469.9 173.7h0M470.2 169.4h0M470.6 166.1h0M470.9 165.2h0M471.3 161.6h0M471.6 171.7h0M472.0 160.7h0M472.4 162.3h0M472.7 161.3h0M473.1 156.9h0M473.4 165.8h0M473.8 164.1h0M474.1 176.1h0M474.5 168.6h0M474.8 172.3h0M475.2 176.8h0M475.5 160.8h0M475.9 161.0h0M476.2 165.1h0M476.6 162.3h0M476.9 163.5h0M477.3 164.5h0M477.6 162.1h0M478.0 166.4h0M478.3 170.1h0M478.7 175.7h0M479.0 182.6h0M479.4 189.5h0M479.7 197.5h0M480.1 205.7h0M480.4 215.0h0M480.8 224.6h0M481.1 234.7h0M481.5 245.4h0M481.9 255.9h0M482.2 266.7h0M482.6 277.5h0M482.9 288.5h0M483.3 299.4h0M483.6 309.8h0M484.0 319.9h0M484.3 329.9h0M484.7 339.1h0M485.0 347.8h0M485.4 356.1h0M485.7 363.3h0M486.1 359.6h0M486.4 363.1h0M486.8 357.8h0M487.1 351.8h0M487.5 345.1h0M487.8 339.1h0M488.2 331.9h0M488.5 325.1h0M488.9 317.9h0M489.2 310.1h0M489.6 302.5h0M489.9 295.0h0M490.3 286.9h0M490.6 279.1h0M491.0 270.8h0M491.4 262.5h0M491.7 255.1h0M492.1 247.6h0M492.4 240.6h0M492.8 233.4h0M493.1 225.8h0M493.5 218.3h0M493.8 211.5h0M494.2 204.8h0M494.5 198.7h0M494.9 192.9h0M495.2 187.5h0M495.6 183.5h0M495.9 180.5h0M496.3 176.5h0M496.6 175.3h0M497.0 173.1h0M497.3 165.3h0M497.7 167.0h0M498.0 168.9h0M498.4 169.8h0M498.7 168.7h0M499.1 166.1h0M499.4 163.2h0M499.8 167.9h0M500.1 167.7h0M500.5 173.6h0M500.9 168.0h0M501.2 163.5h0M501.6 169.4h0M501.9 174.0h0M502.3 169.3h0M502.6 172.1h0M503.0 166.4h0M503.3 166.6h0M503.7 171.8h0M504.0 175.9h0M504.4 182.6h0M504.7 190.3h0M505.1 199.4h0M505.4 209.9h0M505.8 221.6h0M506.1 233.9h0M506.5 247.0h0M506.8 260.3h0M507.2 274.1h0M507.5 288.1h0M507.9 301.8h0M508.2 315.5h0M508.6 328.8h0M508.9 341.5h0M509.3 353.5h0M509.7 364.9h0M510.0 375.1h0M510.4 384.5h0M510.7 380.3h0M511.1 373.8h0M511.4 367.1h0M511.8 359.5h0M512.1 352.4h0M512.5 344.1h0M512.8 336.0h0M513.2 327.3h0M513.5 318.4h0M513.9 309.5h0M514.2 300.4h0M514.6 290.8h0M514.9 281.5h0M515.3 272.3h0M515.6 263.1h0M516.0 253.8h0M516.3 245.2h0M516.7 236.2h0M517.0 227.7h0M517.4 219.3h0M517.7 211.2h0M518.1 204.4h0M518.4 197.3h0M518.8 190.0h0M519.2 184.9h0M519.5 179.4h0M519.9 174.1h0M520.2 169.9h0M520.6 167.8h0M520.9 166.0h0M521.3 161.4h0M521.6 161.9h0M522.0 176.4h0M522.3 171.3h0M522.7 173.9h0M523.0 177.0h0M523.4 166.7h0M523.7 160.4h0M524.1 163.8h0M524.4 156.8h0M524.8 165.5h0M525.1 173.6h0M525.5 179.5h0M525.8 184.6h0M526.2 174.7h0M526.5 167.7h0M526.9 172.1h0M527.2 159.2h0M527.6 159.1h0M527.9 162.9h0M528.3 166.9h0M528.7 172.1h0M529.0 177.2h0M529.4 182.7h0M529.7 189.0h0M530.1 196.7h0M530.4 204.8h0M530.8 213.3h0M531.1 222.6h0M531.5 231.8h0M531.8 241.8h0M532.2 251.6h0M532.5 261.3h0M532.9 271.4h0M533.2 281.4h0M533.6 291.5h0M533.9 301.1h0M534.3 310.6h0M534.6 319.9h0M535.0 329.0h0M535.3 336.9h0M535.7 345.1h0M536.0 352.0h0M536.4 358.7h0M536.7 356.8h0M537.1 351.8h0M537.4 345.9h0M537.8 339.2h0M538.2 332.5h0M538.5 325.2h0M538.9 317.8h0M539.2 310.2h0M539.6 302.6h0M539.9 295.1h0M540.3 287.0h0M540.6 278.7h0M541.0 270.8h0M541.3 262.3h0M541.7 254.2h0M542.0 246.2h0M542.4 238.2h0M542.7 230.5h0M543.1 222.7h0M543.4 215.5h0M543.8 209.0h0M544.1 201.9h0M544.5 195.2h0M544.8 189.3h0M545.2 184.1h0M545.5 180.1h0M545.9 175.2h0M546.2 170.1h0M546.6 166.7h0M546.9 167.2h0M547.3 165.3h0M547.7 162.7h0M548.0 167.1h0M548.4 165.1h0M548.7 158.3h0M549.1 163.8h0M549.4 162.3h0M549.8 160.1h0M550.1 166.5h0M550.5 162.4h0M550.8 161.5h0M551.2 162.0h0M551.5 158.7h0M551.9 159.7h0M552.2 184.4h0M552.6 169.7h0M552.9 176.9h0M553.3 167.0h0M553.6 164.4h0M554.0 167.2h0M554.3 171.0h0M554.7 176.3h0M555.0 182.2h0M555.4 189.0h0M555.7 197.2h0M556.1 206.5h0M556.4 216.4h0M556.8 227.0h0M557.2 237.8h0M557.5 249.3h0M557.9 260.6h0M558.2 272.6h0M558.6 284.8h0M558.9 296.9h0M559.3 309.0h0M559.6 321.0h0M560.0 332.7h0M560.3 344.0h0M560.7 354.8h0M561.0 365.2h0M561.4 374.9h0M561.7 384.3h0M562.1 392.9h0M562.4 391.7h0M562.8 393.1h0M563.1 386.3h0M563.5 378.9h0M563.8 370.5h0M564.2 362.4h0M564.5 353.8h0M564.9 344.5h0M565.2 335.4h0M565.6 325.8h0M565.9 316.3h0M566.3 306.2h0M566.7 296.4h0M567.0 286.3h0M567.4 276.3h0M567.7 266.3h0M568.1 256.4h0M568.4 247.1h0M568.8 237.7h0M569.1 228.2h0M569.5 219.3h0M569.8 211.0h0M570.2 202.8h0M570.5 195.2h0M570.9 188.1h0M571.2 182.3h0M571.6 176.7h0M571.9 171.0h0M572.3 166.8h0M572.6 162.8h0M573.0 167.3h0M573.3 166.8h0M573.7 175.4h0M574.0 177.5h0M574.4 162.4h0M574.7 172.0h0M575.1 155.0h0M575.4 156.1h0M575.8 156.1h0M576.2 163.2h0M576.5 165.1h0M576.9 165.1h0M577.2 154.6h0M577.6 165.0h0M577.9 162.7h0M578.3 165.5h0M578.6 172.2h0M579.0 169.3h0M579.3 163.0h0M579.7 164.4h0M580.0 167.3h0M580.4 172.1h0M580.7 177.4h0M581.1 184.8h0M581.4 193.2h0M581.8 202.5h0M582.1 212.6h0M582.5 223.3h0M582.8 234.5h0M583.2 246.1h0M583.5 257.9h0M583.9 270.1h0M584.2 282.2h0M584.6 294.2h0M585.0 306.1h0M585.3 317.6h0M585.7 328.7h0M586.0 339.4h0M586.4 349.8h0M586.7 359.3h0M587.1 368.3h0M587.4 376.6h0M587.8 373.4h0M588.1 367.7h0M588.5 361.2h0M588.8 354.6h0M589.2 347.5h0M589.5 339.7h0M589.9 332.2h0M590.2 324.3h0M590.6 316.2h0M590.9 307.6h0M591.3 299.1h0M591.6 290.6h0M592.0 281.6h0M592.3 272.8h0M592.7 263.8h0M593.0 255.2h0M593.4 247.0h0M593.7 238.8h0M594.1 230.5h0M594.5 223.2h0M594.8 215.1h0M595.2 208.2h0M595.5 201.7h0M595.9 194.5h0M596.2 189.6h0M596.6 185.1h0M596.9 181.1h0M597.3 175.9h0M597.6 170.2h0M598.0 167.1h0M598.3 170.8h0M598.7 179.1h0M599.0 174.2h0M599.4 181.8h0M599.7 175.8h0M600.1 173.9h0M600.4 167.9h0M600.8 178.3h0M601.1 170.8h0M601.5 177.2h0M601.8 164.8h0M602.2 160.4h0M602.5 167.7h0M602.9 165.6h0M603.2 166.9h0M603.6 175.9h0M604.0 168.4h0M604.3 165.9h0M604.7 161.9h0M605.0 165.3h0M605.4 169.3h0M605.7 174.5h0M606.1 180.2h0M606.4 186.0h0M606.8 194.3h0M607.1 202.8h0M607.5 212.0h0M607.8 222.0h0M608.2 232.5h0M608.5 243.6h0M608.9 254.9h0M609.2 266.5h0M609.6 278.4h0M609.9 290.5h0M610.3 302.5h0M610.6 314.2h0M611.0 325.9h0M611.3 337.3h0M611.7 348.1h0M612.0 358.7h0M612.4 368.8h0M612.7 378.4h0M613.1 387.0h0M613.5 394.1h0M613.8 391.5h0M614.2 394.3h0M614.5 394.1h0M614.9 391.2h0M615.2 384.6h0M615.6 376.1h0M615.9 367.8h0M616.3 359.0h0M616.6 350.6h0M617.0 341.9h0M617.3 333.3h0M617.7 324.7h0M618.0 316.3h0M618.4 307.8h0M618.7 299.2h0M619.1 290.6h0M619.4 282.1h0M619.8 273.5h0M620.1 264.9h0M620.5 256.6h0M620.8 248.0h0M621.2 239.6h0M621.5 233.1h0M621.9 229.0h0M622.2 226.7h0M622.6 226.3h0M623.0 223.5h0M623.3 219.1h0M623.7 218.8h0M624.0 214.2h0M624.4 212.2h0M624.7 210.6h0M625.1 208.6h0M625.4 204.3h0M625.8 201.9h0M626.1 198.2h0M626.5 195.3h0M626.8 191.6h0M627.2 190.2h0M627.5 186.6h0M627.9 183.8h0M628.2 181.5h0M628.6 180.9h0M628.9 177.6h0M629.3 173.7h0M629.6 169.4h0M630.0 165.7h0M630.3 163.7h0M630.7 161.2h0M631.0 158.7h0M631.4 156.8h0M631.7 156.2h0M632.1 156.5h0M632.5 159.5h0M632.8 166.0h0M633.2 174.9h0M633.5 186.8h0M633.9 199.5h0M634.2 212.4h0M634.6 225.2h0M634.9 238.1h0M635.3 250.9h0M635.6 263.7h0M636.0 276.6h0M636.3 289.5h0M636.7 302.3h0M637.0 315.2h0M637.4 328.0h0M637.7 340.8h0M638.1 352.5h0M638.4 360.8h0M638.8 364.9h0M639.1 367.1h0M639.5 367.6h0M639.8 368.7h0M640.2 366.8h0M640.5 368.9h0M640.9 365.1h0M641.2 362.3h0M641.6 356.2h0M642.0 350.9h0M642.3 345.6h0M642.7 341.0h0M643.0 334.9h0M643.4 329.7h0M643.7 324.3h0M644.1 318.8h0M644.4 313.0h0M644.8 308.4h0M645.1 302.6h0M645.5 297.4h0M645.8 291.9h0M646.2 286.3h0M646.5 281.2h0M646.9 275.9h0M647.2 270.5h0M647.6 265.0h0M647.9 259.7h0M648.3 254.1h0M648.6 248.8h0M649.0 244.1h0M649.3 237.9h0M649.7 233.0h0M650.0 228.8h0M650.4 225.7h0M650.7 224.7h0M651.1 223.6h0M651.5 222.0h0M651.8 220.8h0M652.2 216.8h0M652.5 212.0h0M652.9 209.6h0M653.2 206.3h0M653.6 200.6h0M653.9 196.3h0M654.3 193.8h0M654.6 190.4h0M655.0 185.6h0M655.3 181.7h0M655.7 181.6h0M656.0 178.5h0M656.4 175.7h0M656.7 172.2h0M657.1 169.9h0M657.4 168.5h0M657.8 172.3h0M658.1 176.0h0M658.5 182.4h0M658.8 193.1h0M659.2 206.2h0M659.5 219.9h0M659.9 233.7h0M660.3 247.6h0M660.6 261.4h0M661.0 275.2h0M661.3 289.1h0M661.7 302.9h0M662.0 316.8h0M662.4 330.6h0M662.7 344.4h0M663.1 358.3h0M663.4 371.9h0M663.8 383.0h0M664.1 388.0h0M664.5 390.3h0M664.8 392.0h0M665.2 391.4h0M665.5 396.1h0M665.9 394.7h0M666.2 393.0h0M666.6 386.9h0M666.9 378.5h0M667.3 369.1h0M667.6 359.6h0M668.0 350.0h0M668.3 340.5h0M668.7 330.9h0M669.0 321.4h0M669.4 312.0h0M669.8 302.6h0M670.1 293.0h0M670.5 283.3h0M670.8 274.0h0M671.2 264.4h0M671.5 255.0h0M671.9 246.3h0M672.2 239.6h0M672.6 236.3h0M672.9 232.7h0M673.3 232.8h0M673.6 230.7h0M674.0 230.5h0M674.3 228.6h0M674.7 226.8h0M675.0 223.3h0M675.4 219.9h0M675.7 216.3h0M676.1 213.5h0M676.4 210.4h0M676.8 206.6h0M677.1 203.7h0M677.5 200.8h0M677.8 198.5h0M678.2 195.5h0M678.5 192.2h0M678.9 189.6h0M679.3 186.6h0M679.6 183.2h0M680.0 179.7h0M680.3 177.6h0M680.7 174.6h0M681.0 171.2h0M681.4 168.8h0M681.7 166.1h0M682.1 163.2h0M682.4 161.0h0M682.8 157.9h0M683.1 155.8h0M683.5 151.4h0M683.8 151.7h0M684.2 154.6h0M684.5 158.4h0M684.9 165.3h0M685.2 175.6h0M685.6 188.5h0M685.9 202.2h0M686.3 216.0h0M686.6 229.6h0M687.0 243.4h0M687.3 257.1h0M687.7 270.8h0M688.0 284.5h0M688.4 298.2h0M688.8 311.9h0M689.1 325.7h0M689.5 338.3h0M689.8 347.5h0M690.2 351.2h0M690.5 352.9h0M690.9 356.5h0M691.2 353.1h0M691.6 350.9h0M691.9 354.1h0M692.3 354.0h0M692.6 350.6h0M693.0 346.0h0M693.3 341.2h0M693.7 337.7h0M694.0 333.9h0M694.4 329.3h0M694.7 324.9h0M695.1 320.3h0M695.4 316.8h0M695.8 312.0h0M696.1 308.0h0M696.5 302.8h0M696.8 298.3h0M697.2 294.5h0M697.5 290.0h0M697.9 285.7h0M698.3 282.0h0M698.6 277.4h0M699.0 273.4h0M699.3 269.1h0M699.7 264.4h0M700.0 260.2h0M700.4 255.4h0M700.7 251.1h0M701.1 250.1h0M701.4 245.2h0M701.8 240.9h0M702.1 237.1h0M702.5 235.5h0M702.8 234.1h0M703.2 232.8h0M703.5 229.4h0M703.9 229.7h0M704.2 224.7h0M704.6 223.4h0M704.9 223.0h0M705.3 220.6h0M705.6 218.6h0M706.0 219.9h0M706.3 218.3h0M706.7 218.0h0M707.0 220.2h0M707.4 215.7h0M707.8 210.7h0M708.1 209.0h0M708.5 206.0h0M708.8 202.0h0M709.2 198.2h0M709.5 195.3h0M709.9 194.5h0M710.2 197.3h0M710.6 196.1h0M710.9 201.2h0M711.3 207.5h0M711.6 215.3h0M712.0 223.6h0M712.3 231.9h0M712.7 240.4h0M713.0 248.7h0M713.4 257.0h0M713.7 265.5h0M714.1 273.9h0M714.4 282.4h0M714.8 290.8h0M715.1 299.3h0M715.5 307.8h0M715.8 316.1h0M716.2 324.3h0M716.5 330.7h0M716.9 333.2h0M717.3 336.8h0M717.6 338.0h0M718.0 339.7h0M718.3 333.6h0M718.7 338.8h0M719.0 335.3h0M719.4 331.8h0M719.7 325.2h0M720.1 317.9h0M720.4 310.6h0M720.8 303.2h0M721.1 296.1h0M721.5 288.9h0M721.8 281.7h0M722.2 274.1h0M722.5 266.7h0M722.9 259.9h0M723.2 252.5h0M723.6 247.1h0M723.9 244.3h0M724.3 240.2h0M724.6 240.4h0M725.0 240.0h0M725.3 237.8h0M725.7 232.1h0M726.0 231.0h0M726.4 229.6h0M726.8 226.9h0M727.1 223.9h0M727.5 222.2h0M727.8 219.5h0M728.2 217.0h0M728.5 213.0h0M728.9 213.4h0M729.2 209.5h0M729.6 207.0h0M729.9 205.2h0M730.3 202.8h0M730.6 199.9h0M731.0 197.5h0M731.3 196.7h0M731.7 193.4h0M732.0 191.8h0M732.4 189.4h0M732.7 185.4h0M733.1 184.9h0M733.4 181.2h0M733.8 179.9h0M734.1 176.0h0M734.5 173.9h0M734.8 169.4h0M735.2 168.9h0M735.6 166.1h0M735.9 167.9h0M736.3 168.1h0M736.6 161.8h0M737.0 166.6h0M737.3 172.4h0M737.7 181.5h0M738.0 193.2h0M738.4 205.9h0M738.7 218.7h0M739.1 231.6h0M739.4 244.4h0M739.8 257.2h0M740.1 270.1h0M740.5 282.9h0M740.8 295.8h0M741.2 308.7h0M741.5 321.6h0M741.9 334.3h0M742.2 345.6h0M742.6 353.3h0M742.9 356.3h0M743.3 356.9h0M743.6 356.3h0M744.0 359.7h0M744.3 353.9h0M744.7 356.0h0M745.1 356.3h0M745.4 350.4h0M745.8 343.0h0M746.1 335.3h0M746.5 327.5h0M746.8 320.0h0M747.2 312.5h0M747.5 305.0h0M747.9 297.2h0M748.2 289.5h0M748.6 282.2h0M748.9 274.2h0M749.3 267.1h0M749.6 260.5h0M750.0 255.3h0M750.3 251.4h0M750.7 246.8h0M751.0 241.7h0M751.4 236.5h0M751.7 232.0h0M752.1 227.9h0M752.4 223.5h0M752.8 218.5h0M753.1 215.7h0M753.5 212.7h0M753.8 209.1h0M754.2 210.8h0M754.6 214.1h0M754.9 209.8h0M755.3 210.5h0M755.6 215.2h0M756.0 217.5h0M756.3 222.1h0M756.7 223.7h0M757.0 228.6h0M757.4 230.4h0M757.7 234.0h0M758.1 235.2h0M758.4 238.1h0M758.8 241.1h0M759.1 242.4h0M759.5 246.2h0M759.8 247.6h0M760.2 252.6h0M760.5 246.4h0M760.9 241.1h0M761.2 235.0h0M761.6 229.5h0M761.9 223.9h0M762.3 218.0h0M762.6 212.2h0M763.0 206.7h0M763.3 203.9h0M763.7 201.9h0" stroke="#0a0a0a" stroke-width="3.9" stroke-linecap="round" fill="none"/>
<path d="M105.0 71.8V433.6H764.5" stroke="#929292" stroke-width="2.2" fill="none"/>
<path d="M105.0 433.6v-6.5M155.7 433.6v-6.5M206.3 433.6v-6.5M257.0 433.6v-6.5M307.7 433.6v-6.5M358.3 433.6v-6.5M409.0 433.6v-6.5M459.7 433.6v-6.5M510.4 433.6v-6.5M561.0 433.6v-6.5M611.7 433.6v-6.5M662.4 433.6v-6.5M713.0 433.6v-6.5M763.7 433.6v-6.5M105.0 131.3h6.5M105.0 191.8h6.5M105.0 252.3h6.5M105.0 312.8h6.5M105.0 373.3h6.5" stroke="#5c5c5c" stroke-width="1.4" fill="none"/>
<text x="95.6" y="142.2" font-size="28" text-anchor="end">0.4</text>
<text x="95.6" y="202.7" font-size="28" text-anchor="end">0.2</text>
<text x="95.6" y="263.2" font-size="28" text-anchor="end">0</text>
<text x="95.6" y="323.7" font-size="28" text-anchor="end">-0.2</text>
<text x="95.6" y="384.2" font-size="28" text-anchor="end">-0.4</text>
<text x="95.6" y="444.7" font-size="28" text-anchor="end">-0.6</text>
<text transform="translate(106.0 468.1) rotate(-45)" y="10" font-size="28" text-anchor="middle">27</text>
<text transform="translate(156.7 468.1) rotate(-45)" y="10" font-size="28" text-anchor="middle">28</text>
<text transform="translate(207.3 468.1) rotate(-45)" y="10" font-size="28" text-anchor="middle">29</text>
<text transform="translate(258.0 468.1) rotate(-45)" y="10" font-size="28" text-anchor="middle">30</text>
<text transform="translate(308.7 468.1) rotate(-45)" y="10" font-size="28" text-anchor="middle">31</text>
<text transform="translate(359.3 468.1) rotate(-45)" y="10" font-size="28" text-anchor="middle">1</text>
<text transform="translate(410.0 468.1) rotate(-45)" y="10" font-size="28" text-anchor="middle">2</text>
<text transform="translate(460.7 468.1) rotate(-45)" y="10" font-size="28" text-anchor="middle">3</text>
<text transform="translate(511.4 468.1) rotate(-45)" y="10" font-size="28" text-anchor="middle">4</text>
<text transform="translate(562.0 468.1) rotate(-45)" y="10" font-size="28" text-anchor="middle">5</text>
<text transform="translate(612.7 468.1) rotate(-45)" y="10" font-size="28" text-anchor="middle">6</text>
<text transform="translate(663.4 468.1) rotate(-45)" y="10" font-size="28" text-anchor="middle">7</text>
<text transform="translate(714.0 468.1) rotate(-45)" y="10" font-size="28" text-anchor="middle">8</text>
<text transform="translate(764.7 468.1) rotate(-45)" y="10" font-size="28" text-anchor="middle">9</text>
<text x="109" y="505.2" font-size="28">Oct.</text>
<text x="720.3" y="505.2" font-size="29">Nov.</text>
<text x="434" y="523.2" font-size="30.6" text-anchor="middle">Time [day]</text>
<text transform="translate(34.2 356) rotate(-90)" font-size="31">Velocity [m s<tspan font-size="24.5" dy="-14.5">-1</tspan><tspan dy="14.5" dx="1">]</tspan></text>
<rect x="120.2" y="87.3" width="266.4" height="37.4" fill="#fff" stroke="#707070" stroke-width="1.9" rx="1.5"/>
<path d="M127 105.5H186.3" stroke="#2aabe2" stroke-width="3.1"/>
<text x="190.3" y="115.6" font-size="23.8">Model</text>
<circle cx="296.7" cy="106" r="2.1" fill="#0a0a0a"/>
<text x="329.3" y="115.6" font-size="24.2">Obs.</text>
<text x="13.6" y="24.1" font-size="29.2" font-weight="bold">A</text>
</g>
<g id="panelB">
<path d="M1048.5 72.0V445.4M1151.4 72.0V445.4M1254.3 72.0V445.4M1357.2 72.0V445.4M946.1 72.0H1357.6M946.1 146.6H1357.6M946.1 221.2H1357.6M946.1 295.8H1357.6M946.1 370.4H1357.6" stroke="#e9e9eb" stroke-width="1.1" fill="none"/>
<path d="M1123.5 89.5 L1130.1 108.2 L1138.1 125 L1144.2 143.8 L1151.3 163.6 L1151.5 222 L1151.5 223.2 L1151.5 225.6 L1151.5 229.1 L1151.4 233.9 L1151.5 238.0 L1151.6 241.5 L1151.8 244.4 L1152.0 246.6 L1152.4 251.0 L1153.0 257.6 L1153.8 266.2 L1154.7 277.1 L1155.6 288.4 L1156.6 300.3 L1157.5 312.7 L1158.4 325.6 L1159.3 338.9 L1160.1 352.5 L1160.9 366.4 L1161.7 380.6 L1162.5 394.0 L1163.3 406.5 L1164.1 418.1 L1165.0 428.9 L1165.6 436.9 L1166.1 442.3 L1166.3 445" stroke="#3b4fa8" stroke-width="4" fill="none" stroke-linejoin="round" stroke-linecap="round"/>
<path d="M1065.7 89.5 L1080.5 123.9 L1086.1 135.2 L1104.5 161 L1121 186.9 L1138.4 213.3 L1139.2 214.7 L1140.7 217.4 L1143.0 221.6 L1146.0 227.1 L1149.0 232.7 L1151.8 238.6 L1154.5 244.6 L1157.0 250.7 L1159.8 256.9 L1162.9 263.1 L1166.2 269.3 L1169.7 275.5 L1173.2 282.7 L1176.7 290.8 L1180.2 300.0 L1183.7 310.1 L1186.7 319.2 L1189.0 327.4 L1190.8 334.6 L1192.0 340.7 L1193.2 346.9 L1194.5 353.2 L1195.8 359.5 L1197.1 365.7 L1198.9 374.8 L1201.2 386.7 L1204.1 401.4 L1207.4 418.8 L1210.0 431.9 L1211.7 440.6 L1212.5 445" stroke="#ec1c24" stroke-width="3.8" fill="none" stroke-linejoin="round" stroke-linecap="round"/>
<circle cx="1123.4" cy="108.5" r="5.3" fill="#3b4fa8"/>
<circle cx="1128.5" cy="135.0" r="5.3" fill="#3b4fa8"/>
<circle cx="1133.6" cy="160.8" r="5.3" fill="#3b4fa8"/>
<circle cx="1138.9" cy="186.9" r="5.3" fill="#3b4fa8"/>
<circle cx="1145.9" cy="213.3" r="5.3" fill="#3b4fa8"/>
<circle cx="1150.6" cy="239.8" r="5.3" fill="#3b4fa8"/>
<circle cx="1159.3" cy="265.6" r="5.3" fill="#3b4fa8"/>
<circle cx="1165.9" cy="292.4" r="5.3" fill="#3b4fa8"/>
<circle cx="1170.6" cy="318.3" r="5.3" fill="#3b4fa8"/>
<circle cx="1174.5" cy="344.4" r="5.3" fill="#3b4fa8"/>
<circle cx="1178" cy="371.1" r="5.3" fill="#3b4fa8"/>
<circle cx="1063.9" cy="108.5" r="5.3" fill="#ec1c24"/>
<circle cx="1086.1" cy="135.2" r="5.3" fill="#ec1c24"/>
<circle cx="1104.5" cy="161" r="5.3" fill="#ec1c24"/>
<circle cx="1121" cy="186.9" r="5.3" fill="#ec1c24"/>
<circle cx="1138.4" cy="213.3" r="5.3" fill="#ec1c24"/>
<circle cx="1157.6" cy="239.1" r="5.3" fill="#ec1c24"/>
<circle cx="1174.6" cy="265.6" r="5.3" fill="#ec1c24"/>
<circle cx="1190" cy="292.4" r="5.3" fill="#ec1c24"/>
<circle cx="1203.2" cy="318.3" r="5.3" fill="#ec1c24"/>
<circle cx="1213" cy="344.4" r="5.3" fill="#ec1c24"/>
<circle cx="1218.8" cy="371.1" r="5.3" fill="#ec1c24"/>
<path d="M946.1 72.0V445.4H1358.3999999999999" stroke="#6e6e6e" stroke-width="1.7" fill="none"/>
<path d="M945.6 445.4v-5M1048.5 445.4v-5M1151.4 445.4v-5M1254.3 445.4v-5M1357.2 445.4v-5M946.1 72.0h5M946.1 146.6h5M946.1 221.2h5M946.1 295.8h5M946.1 370.4h5" stroke="#6e6e6e" stroke-width="1.4" fill="none"/>
<text x="914.0" y="82.4" font-size="28" text-anchor="end">0</text>
<text x="935.1" y="157.0" font-size="28" text-anchor="end">-0.2</text>
<text x="935.1" y="231.6" font-size="28" text-anchor="end">-0.4</text>
<text x="935.1" y="306.2" font-size="28" text-anchor="end">-0.6</text>
<text x="935.1" y="380.8" font-size="28" text-anchor="end">-0.8</text>
<text x="917.6" y="455.4" font-size="28" text-anchor="end">-1</text>
<text x="944.8" y="484" font-size="28" text-anchor="middle">-0.2</text>
<text x="1047.7" y="484" font-size="28" text-anchor="middle">-0.1</text>
<text x="1151.4" y="484" font-size="28" text-anchor="middle">0</text>
<text x="1254.3" y="484" font-size="28" text-anchor="middle">0.1</text>
<text x="1357.2" y="484" font-size="28" text-anchor="middle">0.2</text>
<text x="1151" y="524" font-size="30.4" text-anchor="middle">Current [m/s]</text>
<text transform="translate(874.3 281.3) rotate(-90)" font-size="30">z/H</text>
<text y="65.3" font-size="40" fill="#0b0b0b"><tspan x="998.7" textLength="182.1" lengthAdjust="spacingAndGlyphs">Exchange</tspan> <tspan x="1196.4" textLength="84.8" lengthAdjust="spacingAndGlyphs">flow</tspan></text>
<rect x="1212" y="87.8" width="129.9" height="107.6" fill="#fff" stroke="#666" stroke-width="1.8"/>
<path d="M1219.5 102.8H1274.8" stroke="#3b4fa8" stroke-width="4.4" stroke-linecap="round"/>
<path d="M1219.5 128.7H1274.8" stroke="#ec1c24" stroke-width="4.2" stroke-linecap="round"/>
<circle cx="1247" cy="154.6" r="5.4" fill="#3b4fa8"/>
<circle cx="1247" cy="180.5" r="5.4" fill="#ec1c24"/>
<text x="1281.2" y="110.1" font-size="19.9" stroke="#111" stroke-width="0.5">Model</text>
<text x="1281.2" y="136.0" font-size="19.9" stroke="#111" stroke-width="0.5">Model</text>
<text x="1281.2" y="161.9" font-size="19.9" stroke="#111" stroke-width="0.5">Obs.</text>
<text x="1281.2" y="188.0" font-size="19.9" stroke="#111" stroke-width="0.5">Obs.</text>
<text x="851.7" y="24.1" font-size="29.2" font-weight="bold">B</text>
</g>
</svg>
</body></html>
